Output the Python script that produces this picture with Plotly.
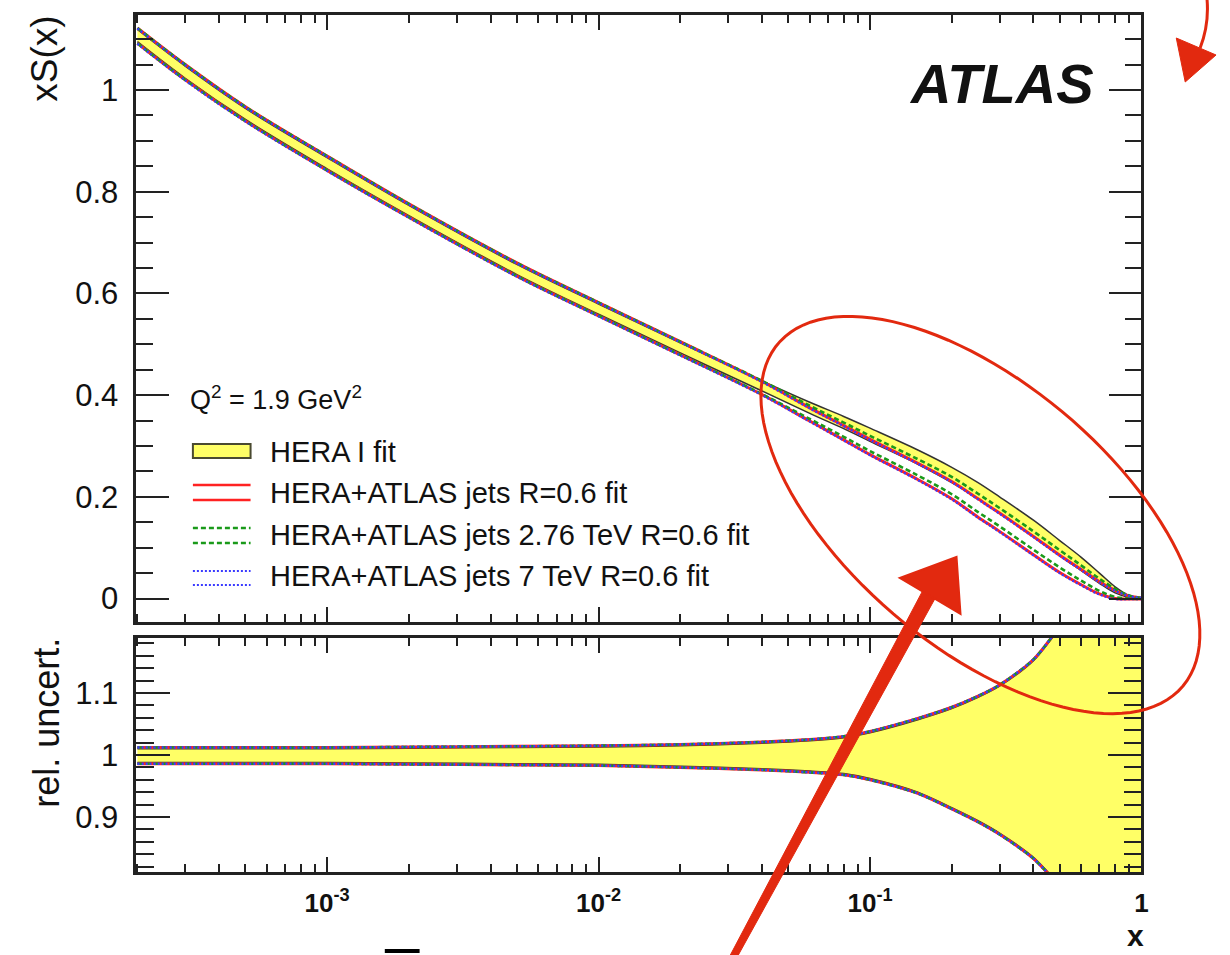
import numpy as np
import plotly.graph_objects as go

# ---------------- data ----------------
x_vals = [2e-4, 3e-4, 5e-4, 1e-3, 2e-3, 5e-3, 0.01, 0.02, 0.04, 0.06, 0.08, 0.1,
          0.15, 0.2, 0.25, 0.3, 0.4, 0.5, 0.6, 0.7, 0.8, 0.9, 1.0]

# top panel: xS(x) central values
hera_c = [1.107, 1.035, 0.953, 0.856, 0.763, 0.647, 0.569, 0.493, 0.418, 0.375, 0.346, 0.322,
          0.278, 0.243, 0.212, 0.184, 0.138, 0.099, 0.068, 0.040, 0.017, 0.004, 0.0]
atlas_c = [1.107, 1.035, 0.953, 0.856, 0.763, 0.647, 0.569, 0.492, 0.414, 0.362, 0.326, 0.298,
           0.250, 0.213, 0.178, 0.150, 0.104, 0.068, 0.042, 0.021, 0.008, 0.002, 0.0]
g276_c = [1.107, 1.035, 0.953, 0.856, 0.763, 0.647, 0.569, 0.492, 0.415, 0.366, 0.332, 0.305,
          0.258, 0.222, 0.188, 0.160, 0.114, 0.078, 0.050, 0.027, 0.011, 0.003, 0.0]
tev7_c = [1.106, 1.034, 0.952, 0.855, 0.762, 0.646, 0.568, 0.491, 0.413, 0.361, 0.325, 0.297,
          0.249, 0.212, 0.177, 0.149, 0.103, 0.067, 0.041, 0.020, 0.007, 0.002, 0.0]
# half widths of the uncertainty bands in the top panel
hera_hw = [0.012, 0.012, 0.011, 0.011, 0.010, 0.010, 0.010, 0.010, 0.010, 0.011, 0.012, 0.013,
           0.014, 0.015, 0.016, 0.016, 0.016, 0.015, 0.013, 0.010, 0.006, 0.002, 0.0]
fit_hw = [0.015, 0.015, 0.014, 0.014, 0.013, 0.013, 0.013, 0.013, 0.013, 0.013, 0.014, 0.015,
          0.016, 0.017, 0.018, 0.018, 0.018, 0.017, 0.015, 0.012, 0.008, 0.003, 0.001]

# bottom panel: relative uncertainty
hera_up = [1.010, 1.010, 1.010, 1.010, 1.011, 1.012, 1.013, 1.015, 1.019, 1.023, 1.028, 1.036,
           1.057, 1.075, 1.093, 1.111, 1.152, 1.205, 1.25, 1.30, 1.35, 1.40, 1.45]
hera_dn = [0.988, 0.988, 0.988, 0.988, 0.987, 0.986, 0.985, 0.982, 0.978, 0.974, 0.970, 0.962,
           0.940, 0.915, 0.894, 0.874, 0.835, 0.790, 0.75, 0.70, 0.65, 0.60, 0.55]
fit_up = [1.012, 1.012, 1.012, 1.012, 1.013, 1.014, 1.015, 1.017, 1.021, 1.025, 1.030, 1.038,
          1.059, 1.077, 1.095, 1.113, 1.154, 1.207, 1.252, 1.302, 1.352, 1.402, 1.452]
fit_dn = [0.986, 0.986, 0.986, 0.986, 0.985, 0.984, 0.983, 0.980, 0.976, 0.972, 0.968, 0.960,
          0.938, 0.913, 0.892, 0.872, 0.833, 0.788, 0.748, 0.698, 0.648, 0.598, 0.548]

y_top_ticks = [0, 0.2, 0.4, 0.6, 0.8, 1]
y_top_labels = ["0", "0.2", "0.4", "0.6", "0.8", "1"]
y_bot_ticks = [0.9, 1.0, 1.1]
y_bot_labels = ["0.9", "1", "1.1"]
x_ticks = [1e-3, 1e-2, 1e-1, 1]
x_labels = ["<b>10<sup>-3</sup></b>", "<b>10<sup>-2</sup></b>", "<b>10<sup>-1</sup></b>", "<b>1</b>"]

legend_labels = ["HERA I fit", "HERA+ATLAS jets R=0.6 fit",
                 "HERA+ATLAS jets 2.76 TeV R=0.6 fit", "HERA+ATLAS jets 7 TeV R=0.6 fit"]

# ---------------- style ----------------
W, H = 1230, 955
FONT = "Liberation Sans, Arial, Helvetica, sans-serif"
YELLOW = "#ffff66"
OUTLINE = "#333333"
RED = "#ff2222"
GREEN = "#1a9a1a"
BLUE = "#3a3aff"
INK = "#e2290f"
AX = "#222222"


def PX(p):
    return p / W


def PY(p):
    return 1 - p / H


xa = np.array(x_vals)

fig = go.Figure()


def band(xref, yref, lo, hi, sm):
    fig.add_trace(go.Scatter(x=xa, y=hi, mode="lines", xaxis=xref, yaxis=yref,
                             line=dict(color=OUTLINE, width=1.5, shape="spline", smoothing=sm),
                             hoverinfo="skip"))
    fig.add_trace(go.Scatter(x=xa, y=lo, mode="lines", xaxis=xref, yaxis=yref, fill="tonexty",
                             fillcolor=YELLOW,
                             line=dict(color=OUTLINE, width=1.5, shape="spline", smoothing=sm),
                             hoverinfo="skip"))


def pair(xref, yref, lo, hi, color, dash, width, sm):
    for arr in (hi, lo):
        fig.add_trace(go.Scatter(x=xa, y=arr, mode="lines", xaxis=xref, yaxis=yref,
                                 line=dict(color=color, width=width, dash=dash,
                                           shape="spline", smoothing=sm),
                                 hoverinfo="skip"))


STYLES = ((RED, "solid", 3.0), (GREEN, "5px,3px", 2.6), (BLUE, "2px,2px", 2.4))

# top panel
hc = np.array(hera_c); hh = np.array(hera_hw); fh = np.array(fit_hw)
band("x", "y", hc - hh, hc + hh, 1.0)
for c, (col, dsh, w) in zip((atlas_c, g276_c, tev7_c), STYLES):
    c = np.array(c)
    pair("x", "y", c - fh, c + fh, col, dsh, w, 1.0)

# bottom panel
band("x2", "y2", np.array(hera_dn), np.array(hera_up), 0.8)
for col, dsh, w in STYLES:
    pair("x2", "y2", np.array(fit_dn), np.array(fit_up), col, dsh, w, 0.8)

minor_x = [m * 10.0 ** e for e in range(-4, 0) for m in range(2, 10)]

xcommon = dict(type="log", range=[np.log10(1.98e-4), 0], showgrid=False, zeroline=False,
               ticks="inside", ticklen=15, tickwidth=2, tickcolor=AX,
               showline=True, linecolor=AX, linewidth=2.5, mirror="allticks",
               tickmode="array", tickvals=x_ticks,
               minor=dict(tickmode="array", tickvals=minor_x, ticks="inside", ticklen=8,
                          tickwidth=1.5, tickcolor=AX, showgrid=False),
               domain=[PX(137), PX(1148)])

fig.update_layout(
    width=W, height=H, autosize=False,
    margin=dict(l=0, r=0, t=0, b=0, pad=0),
    paper_bgcolor="white", plot_bgcolor="white",
    showlegend=False,
    font=dict(family=FONT, color="#111"),
    xaxis=dict(xcommon, anchor="y", showticklabels=False),
    xaxis2=dict(xcommon, anchor="y2", matches="x", showticklabels=True,
                ticktext=x_labels, tickfont=dict(size=26, family=FONT, color="#111"),
                ticklabelstandoff=6),
    yaxis=dict(domain=[PY(622), PY(15)], range=[-0.0462, 1.1475], showgrid=False, zeroline=False,
               ticks="inside", ticklen=33, tickwidth=2, tickcolor=AX,
               showline=True, linecolor=AX, linewidth=2.5, mirror="allticks",
               tickmode="array", tickvals=y_top_ticks, ticktext=y_top_labels,
               tickfont=dict(size=31, family=FONT, color="#111"), ticklabelstandoff=9,
               minor=dict(dtick=0.05, tick0=0, ticks="inside", ticklen=17, tickwidth=2,
                          tickcolor=AX, showgrid=False),
               anchor="x"),
    yaxis2=dict(domain=[PY(872), PY(638)], range=[0.8113, 1.1887], showgrid=False, zeroline=False,
                ticks="inside", ticklen=34, tickwidth=2, tickcolor=AX,
                showline=True, linecolor=AX, linewidth=2.5, mirror="allticks",
                tickmode="array", tickvals=y_bot_ticks, ticktext=y_bot_labels,
                tickfont=dict(size=31, family=FONT, color="#111"), ticklabelstandoff=9,
                minor=dict(dtick=0.02, tick0=0.8, ticks="inside", ticklen=18, tickwidth=2,
                           tickcolor=AX, showgrid=False),
                anchor="x2"),
)

ann = []
# axis titles
ann.append(dict(text="xS(x)", x=PX(45), y=PY(14), xref="paper", yref="paper", textangle=-90,
                xanchor="center", yanchor="top", showarrow=False,
                font=dict(size=37, family=FONT, color="#111")))
ann.append(dict(text="rel. uncert.", x=PX(46), y=PY(636), xref="paper", yref="paper",
                textangle=-90, xanchor="center", yanchor="top", showarrow=False,
                font=dict(size=36, family=FONT, color="#111")))
ann.append(dict(text="<b>x</b>", x=PX(1153), y=PY(954), xref="paper", yref="paper",
                xanchor="right", yanchor="bottom", showarrow=False,
                font=dict(size=30, family=FONT, color="#111")))
ann.append(dict(text="<b><i>ATLAS</i></b>", x=PX(1102), y=PY(84), xref="paper", yref="paper",
                xanchor="right", yanchor="middle", showarrow=False,
                font=dict(size=56, family=FONT, color="#111")))
ann.append(dict(text="Q<sup>2</sup> = 1.9 GeV<sup>2</sup>", x=PX(189), y=PY(398), xref="paper",
                yref="paper", xanchor="left", yanchor="middle", showarrow=False,
                font=dict(size=27, family=FONT, color="#111")))
for lab, py in zip(legend_labels, (452, 493, 535, 576)):
    ann.append(dict(text=lab, x=PX(270), y=PY(py), xref="paper", yref="paper",
                    xanchor="left", yanchor="middle", showarrow=False,
                    font=dict(size=29, family=FONT, color="#111")))

shapes = []
# legend symbols
shapes.append(dict(type="rect", xref="paper", yref="paper", x0=PX(194), x1=PX(252),
                   y0=PY(458), y1=PY(444), fillcolor=YELLOW, line=dict(color="#4a4a30", width=2)))
for py in (485, 500):
    shapes.append(dict(type="line", xref="paper", yref="paper", x0=PX(194), x1=PX(252),
                       y0=PY(py), y1=PY(py), line=dict(color=RED, width=2.5)))
for py in (528, 543):
    shapes.append(dict(type="line", xref="paper", yref="paper", x0=PX(194), x1=PX(252),
                       y0=PY(py), y1=PY(py), line=dict(color=GREEN, width=2.4, dash="5px,3px")))
for py in (571, 585):
    shapes.append(dict(type="line", xref="paper", yref="paper", x0=PX(194), x1=PX(252),
                       y0=PY(py), y1=PY(py), line=dict(color=BLUE, width=2, dash="2px,2px")))

# hand-drawn red ellipse
cx, cy, a, b, th = 986, 515, 266, 132, np.deg2rad(40)
t = np.linspace(0, 2 * np.pi, 120)
ex = cx + a * np.cos(t) * np.cos(th) - b * np.sin(t) * np.sin(th)
ey = cy + a * np.cos(t) * np.sin(th) + b * np.sin(t) * np.cos(th)
path = "M " + " L ".join(f"{PX(u):.5f},{PY(v):.5f}" for u, v in zip(ex, ey)) + " Z"
shapes.append(dict(type="path", xref="paper", yref="paper", path=path,
                   line=dict(color=INK, width=3)))

# big red arrow
shapes.append(dict(type="path", xref="paper", yref="paper",
                   path=f"M {PX(734):.5f},{PY(956):.5f} L {PX(742):.5f},{PY(956):.5f} "
                        f"L {PX(944):.5f},{PY(592):.5f} L {PX(931):.5f},{PY(585):.5f} Z",
                   fillcolor=INK, line=dict(color=INK, width=1)))
tri = [(905, 578), (962, 557), (966, 614)]
shapes.append(dict(type="path", xref="paper", yref="paper",
                   path="M " + " L ".join(f"{PX(u):.5f},{PY(v):.5f}" for u, v in tri) + " Z",
                   fillcolor=INK, line=dict(color=INK, width=2)))

# top-right curved arrow
shapes.append(dict(type="path", xref="paper", yref="paper",
                   path=f"M {PX(1214):.5f},{PY(0):.5f} Q {PX(1216):.5f},{PY(25):.5f} {PX(1207):.5f},{PY(48):.5f}",
                   line=dict(color=INK, width=3)))
tri2 = [(1183, 38), (1223, 55), (1192, 82)]
shapes.append(dict(type="path", xref="paper", yref="paper",
                   path="M " + " L ".join(f"{PX(u):.5f},{PY(v):.5f}" for u, v in tri2) + " Z",
                   fillcolor=INK, line=dict(color=INK, width=1)))

# small black bar at the bottom
shapes.append(dict(type="rect", xref="paper", yref="paper", x0=PX(387), x1=PX(422),
                   y0=PY(953), y1=PY(949), fillcolor="black", line=dict(width=0)))

fig.update_layout(annotations=ann, shapes=shapes)

fig.write_html("out.html")
